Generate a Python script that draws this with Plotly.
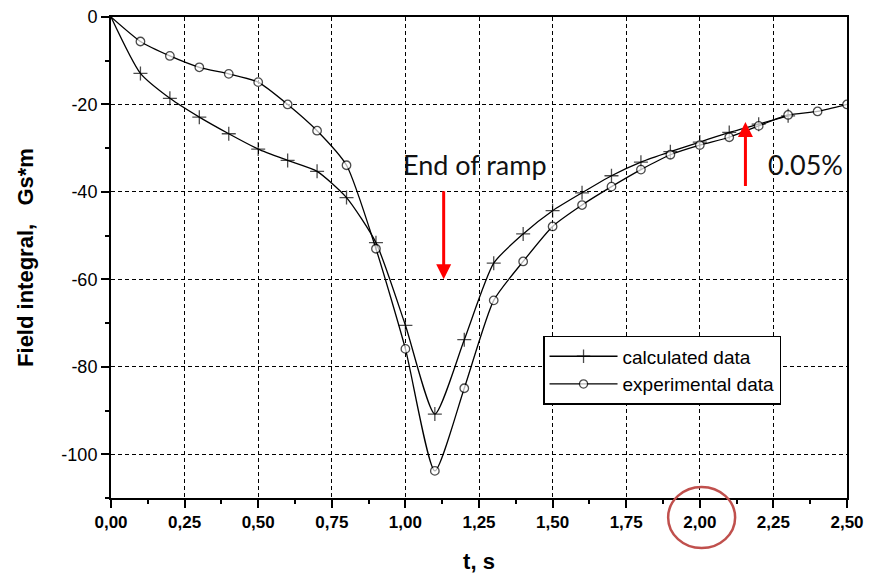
import plotly.graph_objects as go

# ---- data ----
t_calc = [0.0, 0.1, 0.2, 0.3, 0.4, 0.5, 0.6, 0.7, 0.8, 0.9, 1.0, 1.1, 1.2, 1.3,
          1.4, 1.5, 1.6, 1.7, 1.8, 1.9, 2.0, 2.1, 2.2, 2.3]
v_calc = [0.0, -12.9, -18.6, -22.9, -26.7, -30.2, -32.8, -35.3, -41.3, -51.6,
          -70.5, -90.8, -73.8, -56.3, -49.6, -44.3, -40.2, -36.3, -33.2, -30.8,
          -28.6, -26.4, -24.5, -22.6]

t_exp = [0.0, 0.1, 0.2, 0.3, 0.4, 0.5, 0.6, 0.7, 0.8, 0.9, 1.0, 1.1, 1.2, 1.3,
         1.4, 1.5, 1.6, 1.7, 1.8, 1.9, 2.0, 2.1, 2.2, 2.3, 2.4, 2.5]
v_exp = [0.0, -5.6, -8.9, -11.5, -13.0, -14.9, -20.0, -26.0, -33.9, -53.0,
         -75.9, -103.8, -84.9, -64.8, -55.9, -47.9, -43.0, -38.8, -34.9, -31.5,
         -29.3, -27.5, -24.9, -22.4, -21.6, -20.0]

x_tick_vals = [0.0, 0.25, 0.5, 0.75, 1.0, 1.25, 1.5, 1.75, 2.0, 2.25, 2.5]
x_tick_labels = ["0,00", "0,25", "0,50", "0,75", "1,00", "1,25", "1,50",
                 "1,75", "2,00", "2,25", "2,50"]
y_tick_vals = [0, -20, -40, -60, -80, -100]
y_tick_labels = ["0", "-20", "-40", "-60", "-80", "-100"]

series_names = ["calculated data", "experimental data"]
annot_ramp = {"text": "End of ramp", "x": 1.235, "y": -33.8,
              "arrow_x": 1.13, "arrow_tail": -39.5, "arrow_head": -60.0}
annot_pct = {"text": "0.05%", "x": 2.36, "y": -33.8,
             "arrow_x": 2.155, "arrow_tail": -39.0, "arrow_head": -24.0}

fig = go.Figure()

fig.add_trace(go.Scatter(
    x=t_calc, y=v_calc, name=series_names[0], mode="lines+markers",
    line=dict(color="black", width=1.3, shape="spline", smoothing=0.6),
    marker=dict(symbol="cross-thin-open", size=[0] + [10] * (len(t_calc) - 1),
                line=dict(color="black", width=1.3), color="black"),
))
fig.add_trace(go.Scatter(
    x=t_exp, y=v_exp, name=series_names[1], mode="lines+markers",
    line=dict(color="black", width=1.3, shape="spline", smoothing=0.6),
    marker=dict(symbol="circle", size=[0] + [8.5] * (len(t_exp) - 1),
                color="white", line=dict(color="black", width=1.3)),
))

axis_common = dict(
    showline=True, linecolor="black", linewidth=2, mirror=True,
    ticks="outside", ticklen=8, tickwidth=2, tickcolor="black",
    showgrid=True, gridcolor="black", gridwidth=1.1, griddash="4px,3px",
    zeroline=False, automargin=False,
)

fig.update_xaxes(
    range=[0, 2.5], tickvals=x_tick_vals, ticktext=x_tick_labels,
    tickfont=dict(family="Liberation Sans Narrow, Liberation Sans, Arial", size=17,
                  color="black", weight="bold"),
    minor=dict(dtick=0.125, tick0=0, ticks="outside", ticklen=4, tickwidth=1.5,
               tickcolor="black", showgrid=False),
    title=dict(text="<b>t, s</b>", font=dict(family="Liberation Sans, Arial",
                                             size=22, color="black"),
               standoff=22),
    **axis_common,
)
fig.update_yaxes(
    range=[-110, 0], tickvals=y_tick_vals, ticktext=y_tick_labels,
    tickfont=dict(family="Liberation Sans, Arial", size=18, color="black"),
    minor=dict(dtick=10, tick0=0, ticks="outside", ticklen=4, tickwidth=1.5,
               tickcolor="black", showgrid=False),
    title=dict(text="<b>Field integral,   Gs*m</b>",
               font=dict(family="Liberation Sans, Arial", size=22, color="black"),
               standoff=22),
    **axis_common,
)

for a in (annot_ramp, annot_pct):
    fig.add_annotation(x=a["x"], y=a["y"], xref="x", yref="y", text=a["text"],
                       showarrow=False,
                       font=dict(family="Lato, Open Sans", size=27, color="#111111"))
    fig.add_annotation(x=a["arrow_x"], y=a["arrow_head"], ax=a["arrow_x"],
                       ay=a["arrow_tail"], xref="x", yref="y", axref="x", ayref="y",
                       text="", showarrow=True, arrowhead=2, arrowsize=1,
                       arrowwidth=3, arrowcolor="#ff0000")

# red ellipse around the 2,00 tick label
fig.add_shape(type="circle", xref="paper", yref="paper",
              x0=0.757, x1=0.848, y0=-0.104, y1=0.023,
              line=dict(color="#c0504d", width=2.5))

fig.update_layout(
    width=870, height=580,
    margin=dict(l=111, r=23, t=17, b=82),
    paper_bgcolor="white", plot_bgcolor="white",
    showlegend=True,
    legend=dict(x=0.587, y=0.337, xanchor="left", yanchor="top",
                bgcolor="white", bordercolor="black", borderwidth=1.5,
                font=dict(family="Liberation Sans, Arial", size=19, color="black"),
                tracegroupgap=0, itemwidth=68, entrywidth=185),
)

fig.write_html("out.html")
